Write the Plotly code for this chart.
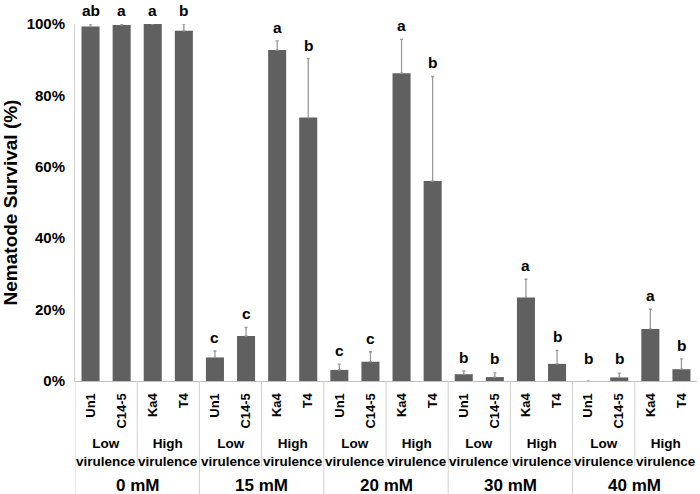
import plotly.graph_objects as go

concentrations = ["0 mM", "15 mM", "20 mM", "30 mM", "40 mM"]
strains = ["Un1", "C14-5", "Ka4", "T4"]
virulence = ["Low<br>virulence", "High<br>virulence"]

survival = [
    99.3, 99.7, 100.0, 98.1,   # 0 mM
    6.6, 12.6, 92.7, 73.8,     # 15 mM
    3.1, 5.4, 86.2, 56.0,      # 20 mM
    1.9, 1.1, 23.4, 4.8,       # 30 mM
    0.0, 1.0, 14.6, 3.3,       # 40 mM
]
err_up = [
    0.7, 0.3, 0.0, 1.9,
    1.8, 2.4, 2.6, 16.5,
    1.6, 2.8, 9.5, 29.3,
    0.9, 1.2, 5.1, 3.8,
    0.0, 1.2, 5.5, 2.9,
]
letters = [
    "ab", "a", "a", "b",
    "c", "c", "a", "b",
    "c", "c", "a", "b",
    "b", "b", "a", "b",
    "b", "b", "a", "b",
]

n = len(survival)
xs = list(range(n))
tick_text = strains * len(concentrations)
FONT = "Liberation Sans, Arial, sans-serif"

fig = go.Figure()
fig.add_trace(go.Bar(
    x=xs, y=survival, width=0.58,
    marker=dict(color="#606060", line=dict(width=0)),
    error_y=dict(type="data", array=err_up, arrayminus=[0] * n, symmetric=False,
                 color="#9a9a9a", thickness=1.3, width=1.5),
    cliponaxis=False,
))

annotations = []
for i in range(n):
    top = max(survival[i] + err_up[i], 2.5)
    annotations.append(dict(x=xs[i], y=top, xref="x", yref="y", text="<b>%s</b>" % letters[i],
                            showarrow=False, yanchor="bottom", yshift=3,
                            font=dict(size=15.5, color="black", family=FONT)))

shapes = []
line_col = "#d0d0d0"
for g in range(len(concentrations)):
    base = g * 4
    shapes.append(dict(type="line", xref="x", yref="paper", x0=base + 1.5, x1=base + 1.5,
                       y0=0, y1=-0.241, line=dict(color=line_col, width=1)))
    shapes.append(dict(type="line", xref="x", yref="paper", x0=base - 0.5, x1=base - 0.5,
                       y0=0, y1=-0.318, line=dict(color=line_col, width=1)))
    for v in range(2):
        annotations.append(dict(x=base + 2 * v + 0.5, y=-0.199, xref="x", yref="paper",
                                text="<b>%s</b>" % virulence[v], showarrow=False,
                                yanchor="middle", align="center",
                                font=dict(size=13.5, color="black", family=FONT)))
    annotations.append(dict(x=base + 1.5, y=-0.293, xref="x", yref="paper",
                            text="<b>%s</b>" % concentrations[g], showarrow=False,
                            yanchor="middle",
                            font=dict(size=17, color="black", family=FONT)))

fig.update_layout(
    width=700, height=494,
    margin=dict(l=75, r=3, t=24, b=113),
    plot_bgcolor="white", paper_bgcolor="white",
    showlegend=False,
    font=dict(family=FONT, color="black"),
    shapes=shapes,
    annotations=annotations,
    xaxis=dict(
        range=[-0.5, n - 0.5],
        tickmode="array", tickvals=xs, ticktext=["<b>%s</b>" % t for t in tick_text],
        tickangle=-90, tickfont=dict(size=13, color="black", family=FONT),
        showline=True, linecolor="#bfbfbf", linewidth=1,
        showgrid=False, zeroline=False, ticks="", ticklabelstandoff=6,
    ),
    yaxis=dict(
        range=[0, 100],
        tickvals=[0, 20, 40, 60, 80, 100],
        ticktext=["<b>%d%%</b>" % v for v in [0, 20, 40, 60, 80, 100]],
        tickfont=dict(size=15, color="black", family=FONT),
        showline=True, linecolor="#d0d0d0", linewidth=1,
        showgrid=False, zeroline=False, ticks="", ticklabelstandoff=6,
        title=dict(text="<b>Nematode Survival (%)</b>", font=dict(size=19, color="black", family=FONT),
                   standoff=8),
    ),
)

fig.write_html("out.html", config={"displayModeBar": False},
               post_script="document.body.style.margin='0';document.body.style.overflow='hidden';")
